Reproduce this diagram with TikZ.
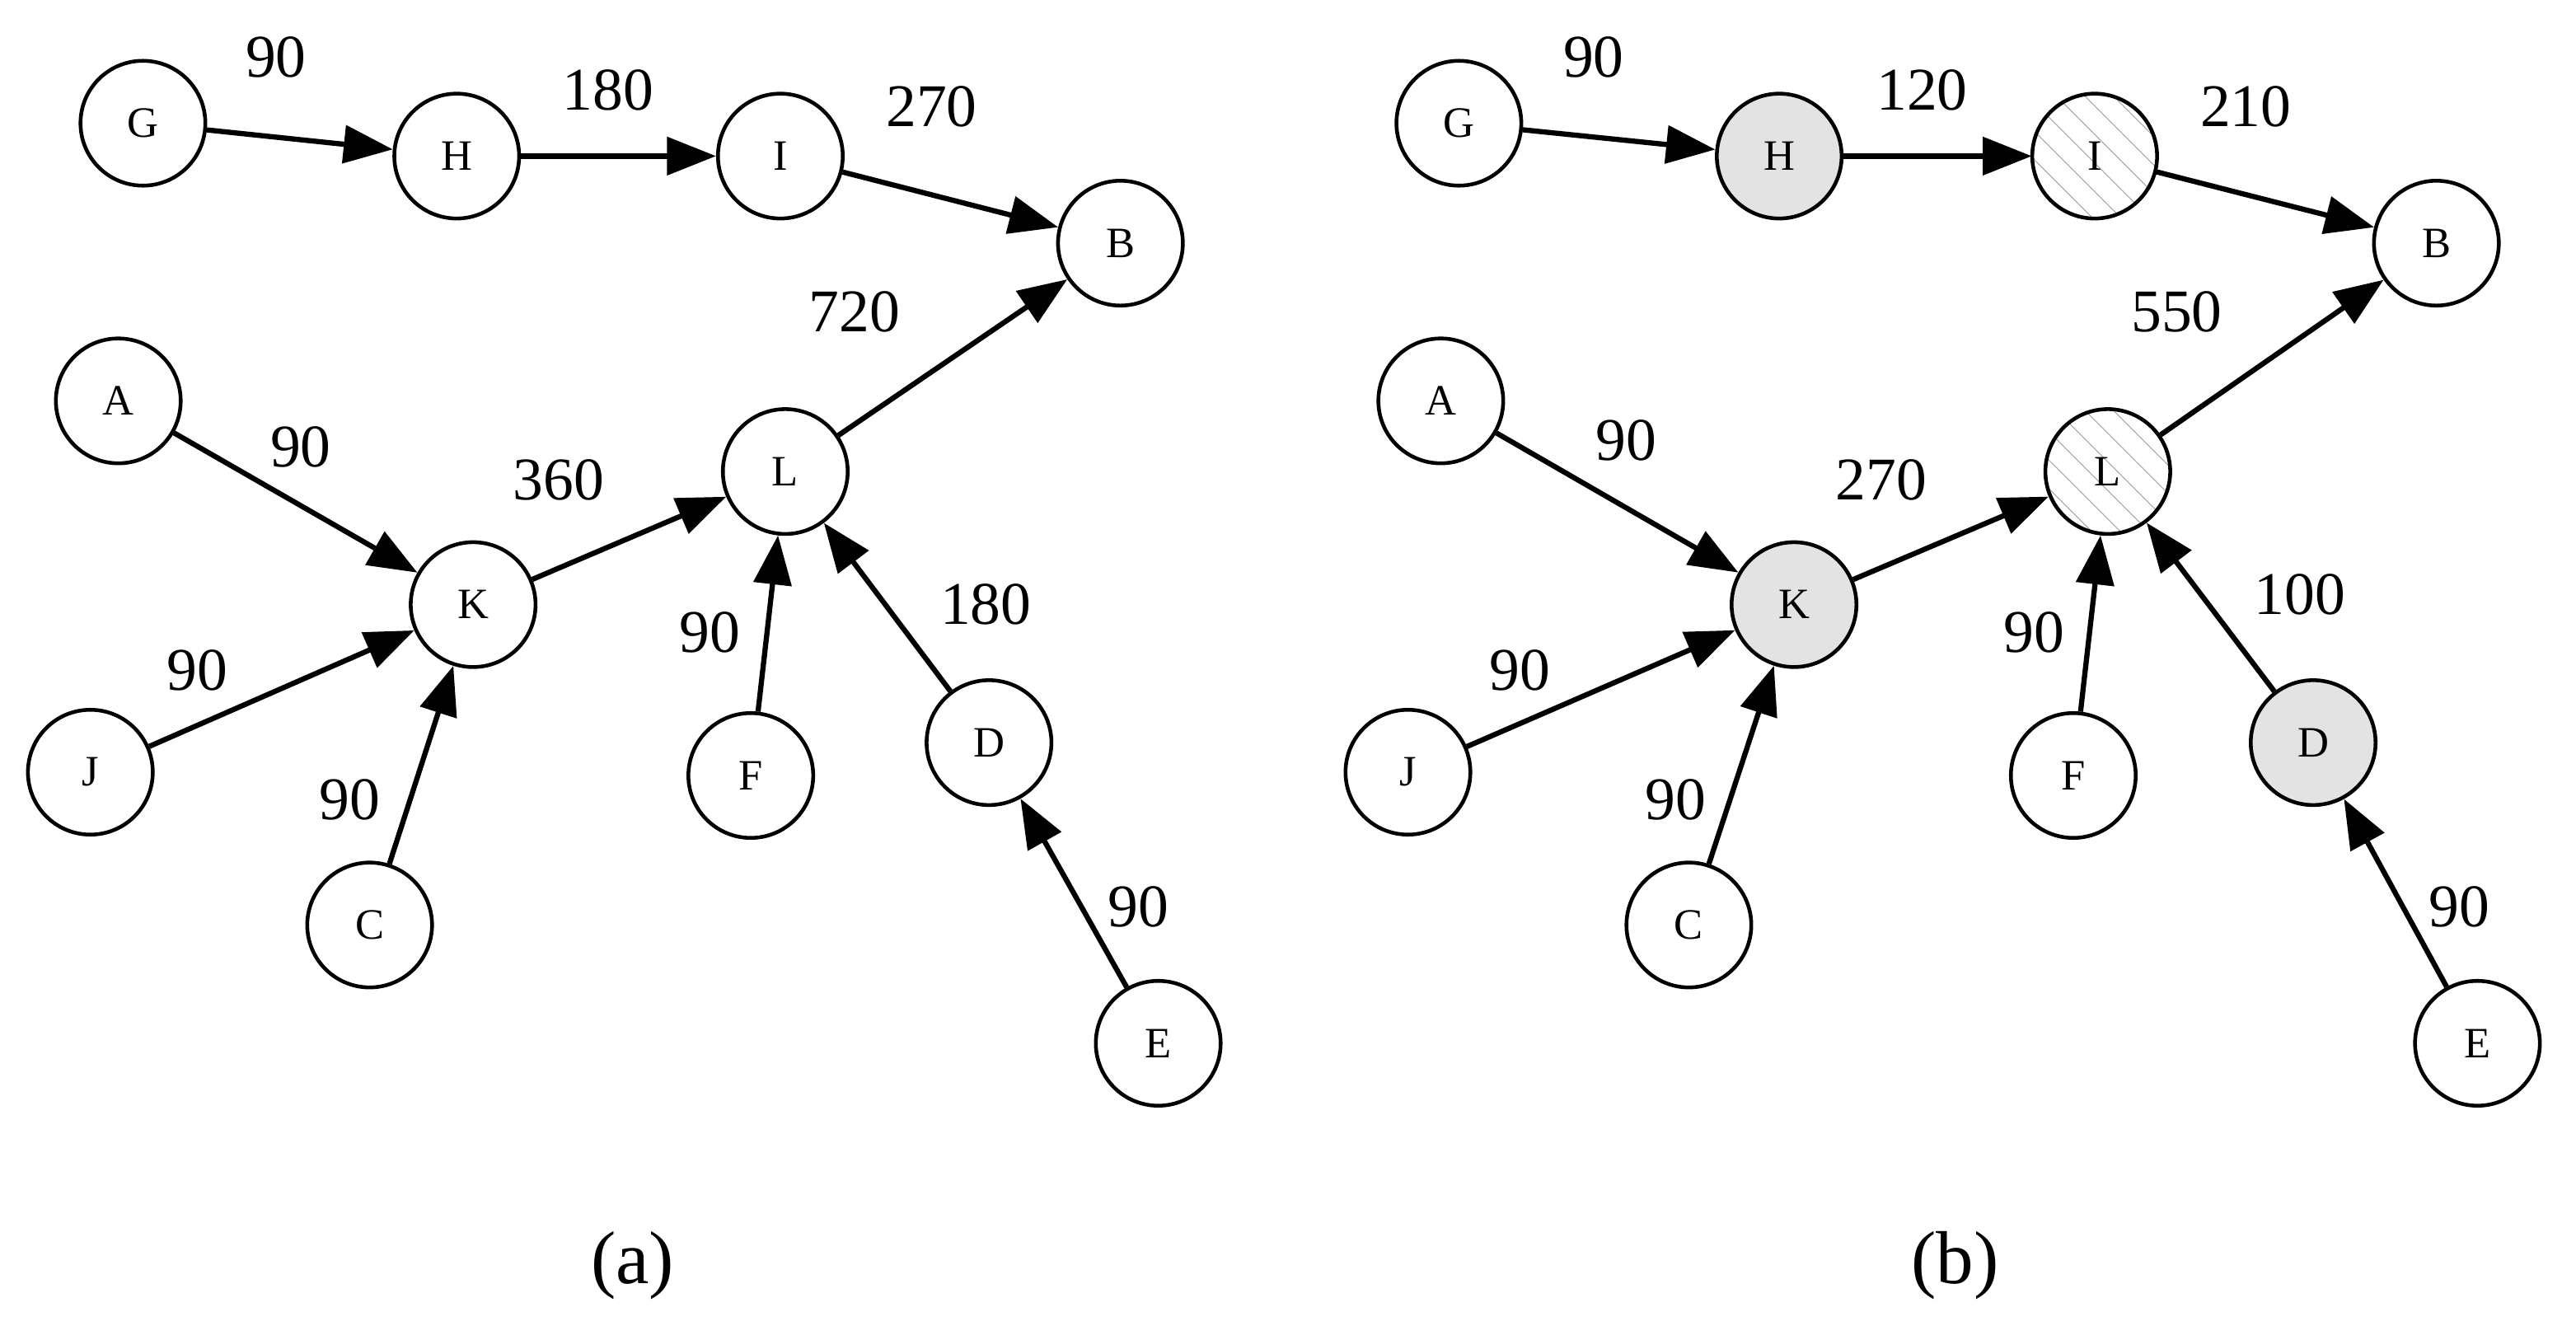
\documentclass[tikz,border=0pt]{standalone}
\usepackage{fontspec}
\setmainfont{Liberation Serif}
\usetikzlibrary{arrows.meta,patterns.meta}
\begin{document}
\begin{tikzpicture}[x=0.02cm,y=-0.02cm,
 nd/.style={circle,draw,line width=1.3pt,minimum size=1.52cm,inner sep=0pt,font=\fontsize{15}{15}\selectfont,fill=white},
 gr/.style={nd,fill=gray!22},
 ht/.style={nd,pattern={Lines[angle=-45,distance=7pt,line width=0.3pt]},pattern color=gray!70},
 ed/.style={line width=1.8pt,-{Triangle[length=17pt,width=13pt]}},
 lb/.style={font=\fontsize{21}{21}\selectfont}]
\useasboundingbox (0,0) rectangle (1568,807);
% panel a
\node[nd] (G) at (87,75) {G};
\node[nd] (H) at (278,95) {H};
\node[nd] (I) at (475,95) {I};
\node[nd] (B) at (682,148) {B};
\node[nd] (A) at (72,244) {A};
\node[nd] (L) at (478,287) {L};
\node[nd] (K) at (288,368) {K};
\node[nd] (J) at (55,470) {J};
\node[nd] (C) at (225,563) {C};
\node[nd] (F) at (457,472) {F};
\node[nd] (D) at (602,452) {D};
\node[nd] (E) at (705,635) {E};
\draw[ed] (G)--(H); \draw[ed] (H)--(I); \draw[ed] (I)--(B); \draw[ed] (L)--(B);
\draw[ed] (A)--(K); \draw[ed] (K)--(L); \draw[ed] (J)--(K); \draw[ed] (C)--(K);
\draw[ed] (F)--(L); \draw[ed] (D)--(L); \draw[ed] (E)--(D);
\node[lb] (la1) at (168,35) {90};
\node[lb] (la2) at (370,55) {180};
\node[lb] (la3) at (567,65) {270};
\node[lb] (la4) at (520,190) {720};
\node[lb] (la5) at (183,272) {90};
\node[lb] (la6) at (340,292) {360};
\node[lb] (la7) at (120,408) {90};
\node[lb] (la8) at (213,487) {90};
\node[lb] (la9) at (432,385) {90};
\node[lb] (la10) at (600,368) {180};
\node[lb] (la11) at (693,552) {90};
\node[lb,font=\fontsize{26}{26}\selectfont] (capa) at (385,770) {(a)};
% panel b
\node[nd] (G2) at (888,75) {G};
\node[gr] (H2) at (1083,95) {H};
\node[ht] (I2) at (1275,95) {I};
\node[nd] (B2) at (1483,148) {B};
\node[nd] (A2) at (877,244) {A};
\node[ht] (L2) at (1283,287) {L};
\node[gr] (K2) at (1092,368) {K};
\node[nd] (J2) at (857,470) {J};
\node[nd] (C2) at (1028,563) {C};
\node[nd] (F2) at (1262,472) {F};
\node[gr] (D2) at (1408,452) {D};
\node[nd] (E2) at (1508,635) {E};
\draw[ed] (G2)--(H2); \draw[ed] (H2)--(I2); \draw[ed] (I2)--(B2); \draw[ed] (L2)--(B2);
\draw[ed] (A2)--(K2); \draw[ed] (K2)--(L2); \draw[ed] (J2)--(K2); \draw[ed] (C2)--(K2);
\draw[ed] (F2)--(L2); \draw[ed] (D2)--(L2); \draw[ed] (E2)--(D2);
\node[lb] (lb1) at (970,35) {90};
\node[lb] (lb2) at (1170,55) {120};
\node[lb] (lb3) at (1367,65) {210};
\node[lb] (lb4) at (1325,190) {550};
\node[lb] (lb5) at (990,268) {90};
\node[lb] (lb6) at (1145,292) {270};
\node[lb] (lb7) at (925,408) {90};
\node[lb] (lb8) at (1020,487) {90};
\node[lb] (lb9) at (1238,385) {90};
\node[lb] (lb10) at (1400,362) {100};
\node[lb] (lb11) at (1497,552) {90};
\node[lb,font=\fontsize{26}{26}\selectfont] (capb) at (1190,770) {(b)};
\end{tikzpicture}
\end{document}
